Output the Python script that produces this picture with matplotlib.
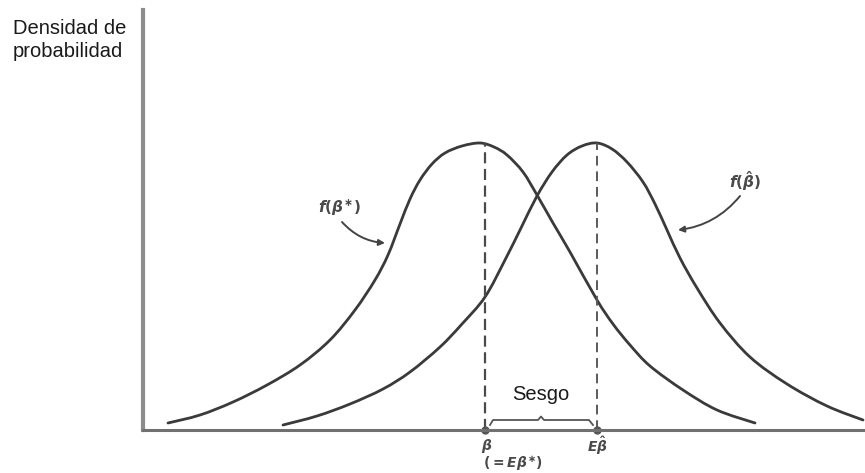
import numpy as np
import matplotlib
matplotlib.use("Agg")
import matplotlib.pyplot as plt
from matplotlib.path import Path
from matplotlib.patches import PathPatch

# -------------------------
# CURVE DATA (x position, density height)
# -------------------------

# f(beta*): unbiased estimator, centred on beta
left_x = np.array([0.21, 0.53, 0.86, 1.20, 1.53, 1.83, 2.08, 2.28, 2.41, 2.53,
                   2.63, 2.73, 2.85, 2.98, 3.15, 3.33, 3.47, 3.60, 3.76, 3.90,
                   4.06, 4.23, 4.50, 4.66, 4.83, 5.03, 5.36, 5.70, 6.08])
left_y = np.array([0.07, 0.15, 0.28, 0.45, 0.65, 0.90, 1.20, 1.50, 1.75, 2.06,
                   2.31, 2.50, 2.66, 2.77, 2.84, 2.87, 2.83, 2.75, 2.58, 2.35,
                   2.07, 1.78, 1.30, 1.06, 0.85, 0.64, 0.40, 0.20, 0.07])

# f(beta hat): biased estimator, centred on E(beta hat)
right_x = np.array([1.36, 1.70, 2.03, 2.36, 2.63, 2.93, 3.15, 3.38, 3.58, 3.74,
                    3.90, 4.05, 4.20, 4.35, 4.50, 4.65, 4.80, 4.96, 5.08, 5.20,
                    5.33, 5.50, 5.73, 6.03, 6.40, 6.80, 7.16])
right_y = np.array([0.05, 0.14, 0.26, 0.41, 0.58, 0.83, 1.06, 1.33, 1.70, 2.02,
                    2.34, 2.58, 2.75, 2.84, 2.87, 2.81, 2.68, 2.48, 2.26, 2.00,
                    1.72, 1.42, 1.07, 0.73, 0.46, 0.24, 0.10])

beta = 3.38       # true value (= E beta*)
e_beta_hat = 4.50 # expected value of the biased estimator

ylabel_text = "Densidad de\nprobabilidad"
bias_text = "Sesgo"


def smooth_path(xs, ys, tension=6.0):
    # Catmull-Rom through the points, written as cubic Bezier segments
    pts = np.column_stack([xs, ys])
    verts = [pts[0]]
    codes = [Path.MOVETO]
    for i in range(len(pts) - 1):
        p0 = pts[max(i - 1, 0)]
        p1 = pts[i]
        p2 = pts[i + 1]
        p3 = pts[min(i + 2, len(pts) - 1)]
        c1 = p1 + (p2 - p0) / tension
        c2 = p2 - (p3 - p1) / tension
        verts += [c1, c2, p2]
        codes += [Path.CURVE4] * 3
    return Path(verts, codes)


# -------------------------
# FIGURE
# -------------------------

plt.rcParams["mathtext.fontset"] = "custom"
plt.rcParams["mathtext.it"] = "DejaVu Sans:italic:bold"
plt.rcParams["mathtext.rm"] = "DejaVu Sans:bold"

W, H = 865, 473
fig = plt.figure(figsize=(W / 100, H / 100), dpi=100)
ax = fig.add_axes([143 / W, 43 / H, (W - 143) / W, 420 / H])
ax.set_xlim(-0.04, 7.18)
ax.set_ylim(0, 4.2)

for side in ["top", "right"]:
    ax.spines[side].set_visible(False)
ax.spines["left"].set_color("#8c8c8c")
ax.spines["left"].set_linewidth(3.0)
ax.spines["bottom"].set_color("#707070")
ax.spines["bottom"].set_linewidth(2.2)
ax.set_xticks([])
ax.set_yticks([])

for xs, ys in [(left_x, left_y), (right_x, right_y)]:
    ax.add_patch(PathPatch(smooth_path(xs, ys), fill=False, edgecolor="#3a3a3a",
                           lw=2.0, joinstyle="round", capstyle="round",
                           clip_on=False))

# dashed verticals from each mode down to the axis
ax.vlines(beta, 0, left_y.max(), colors="#4a4a4a", lw=1.6,
          linestyles=(0, (5, 2.5)))
ax.vlines(e_beta_hat, 0, right_y.max(), colors="#5a5a5a", lw=1.4,
          linestyles=(0, (5, 3)))

# points on the axis
ax.plot([beta, e_beta_hat], [0, 0], "o", color="#555555", ms=5, clip_on=False)

# curly brace marking the bias
mid = (beta + e_beta_hat) / 2
bx = [beta + 0.05, beta + 0.08, mid - 0.03, mid, mid + 0.03,
      e_beta_hat - 0.08, e_beta_hat - 0.04]
by = [0.05, 0.10, 0.10, 0.135, 0.10, 0.10, 0.05]
ax.plot(bx, by, color="#555555", lw=1.3, solid_joinstyle="round")

ax.text(mid, 0.36, bias_text, ha="center", va="center",
        fontsize=14.5, family="Liberation Sans", color="#1a1a1a")

# axis labels under the points
lab_kw = dict(color="#4a4a4a", fontsize=10, clip_on=False)
ax.text(beta + 0.02, -0.16, r"$\beta$", ha="center", va="center", **lab_kw)
ax.text(beta - 0.02, -0.34, r"$(= E\beta^{\ast})$", ha="left", va="center",
        **lab_kw)
ax.text(e_beta_hat, -0.16, r"$E\hat{\beta}$", ha="center", va="center",
        **lab_kw)

# curve labels with arrows
arrow_kw = dict(arrowstyle="-|>", color="#444444", lw=1.4, mutation_scale=9,
                shrinkA=0, shrinkB=0)
ax.text(1.92, 2.22, r"$f(\beta^{\ast})$", ha="center", va="center",
        color="#4a4a4a", fontsize=11)
ax.annotate("", xy=(2.38, 1.87), xytext=(1.95, 2.08),
            arrowprops=dict(connectionstyle="arc3,rad=0.2", **arrow_kw))
ax.text(5.98, 2.49, r"$f(\hat{\beta})$", ha="center", va="center",
        color="#4a4a4a", fontsize=11)
ax.annotate("", xy=(5.31, 2.00), xytext=(5.93, 2.34),
            arrowprops=dict(connectionstyle="arc3,rad=-0.2", **arrow_kw))

fig.text(13 / W, 1 - 19 / H, ylabel_text, ha="left", va="top",
         fontsize=14.5, family="Liberation Sans", color="#1a1a1a",
         linespacing=1.25)

fig.savefig("out.png", dpi=100)
